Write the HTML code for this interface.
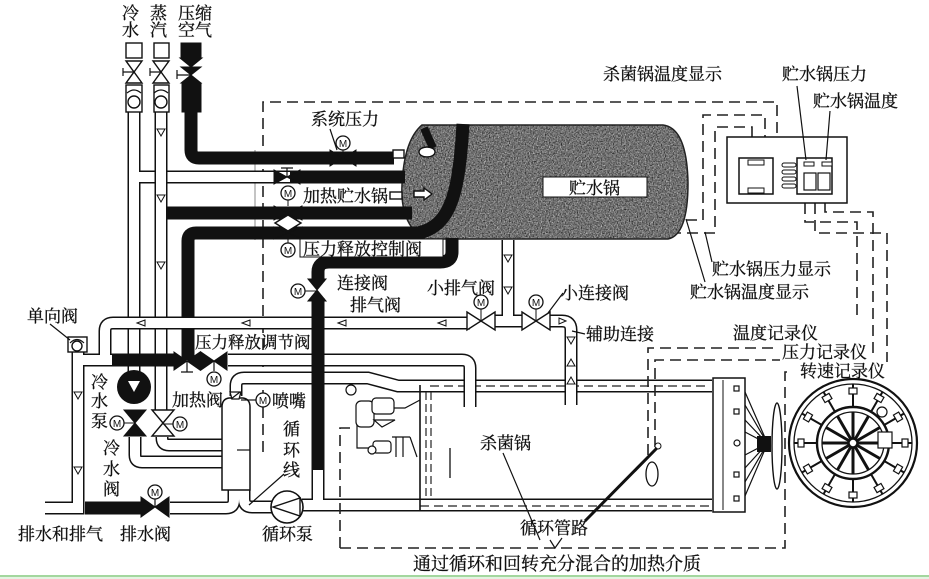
<!DOCTYPE html>
<html><head><meta charset="utf-8">
<style>
html,body{margin:0;padding:0;background:#fff;}
svg{display:block;}
text{font-family:"Liberation Serif","Noto Serif CJK SC","Noto Sans CJK SC",serif;font-size:17px;fill:#111;stroke:#111;stroke-width:0.3;}
.o{fill:none;stroke:#111;stroke-width:13;}
.i{fill:none;stroke:#fff;stroke-width:10;}
.b{fill:none;stroke:#111;stroke-width:13;}
.d{fill:none;stroke:#222;stroke-width:1.6;stroke-dasharray:11 6;}
.t{fill:none;stroke:#111;stroke-width:1.2;}
.vb{fill:#111;stroke:#111;stroke-width:1;}
.vw{fill:#fff;stroke:#111;stroke-width:1.4;}
.m{fill:#fff;stroke:#111;stroke-width:1.3;}
.mt{font-family:"Liberation Sans",sans-serif;font-size:10px;stroke:none;}
</style></head><body>
<svg width="929" height="579" viewBox="0 0 929 579" xmlns="http://www.w3.org/2000/svg">
<defs>
<filter id="speck" x="0" y="0" width="100%" height="100%" color-interpolation-filters="sRGB">
<feTurbulence type="fractalNoise" baseFrequency="0.75" numOctaves="2" seed="5"/>
<feColorMatrix type="matrix" values="0.33 0.33 0.33 0 0 0.33 0.33 0.33 0 0 0.33 0.33 0.33 0 0 0 0 0 0 1"/>
<feComponentTransfer><feFuncR type="linear" slope="2.2" intercept="-0.62"/><feFuncG type="linear" slope="2.2" intercept="-0.62"/><feFuncB type="linear" slope="2.2" intercept="-0.62"/></feComponentTransfer>
<feComposite in2="SourceGraphic" operator="in"/>
</filter>
</defs>
<rect width="929" height="579" fill="#fff"/>

<!-- dashed frames top -->
<path class="d" d="M263,452 V102 H777 V137"/>
<path class="d" d="M686,220 H703 V115 H765 V137"/>
<path class="d" d="M670,233 H715 V127 H752 V137"/>
<path class="d" d="M805,203 V222 H857 V318"/>
<path class="d" d="M825,203 V212 H873 V357"/>
<path class="d" d="M815,203 V233 H887 V362"/>
<line x1="255" y1="150" x2="255" y2="240" stroke="#888" stroke-width="1"/>

<!-- tank -->
<path d="M422,125 H663 Q687,128 688,183 Q688,235 668,239 H425 Q400,225 402,185 Q404,140 422,125 Z" fill="#606060"/>
<path d="M422,125 H663 Q687,128 688,183 Q688,235 668,239 H425 Q400,225 402,185 Q404,140 422,125 Z" fill="#777" filter="url(#speck)" opacity="0.7"/>
<path d="M422,125 H663 Q687,128 688,183 Q688,235 668,239 H425 Q400,225 402,185 Q404,140 422,125 Z" fill="none" stroke="#222" stroke-width="1.5"/>
<rect x="543" y="177" width="104" height="20" fill="#fff" stroke="#111" stroke-width="1"/>
<text x="569" y="194">贮水锅</text>
<path d="M424,128 L433,148" stroke="#111" stroke-width="8"/>

<!-- cold water + branch, steam -->
<path class="o" d="M134,112 V372"/><path class="o" d="M134,177 H290"/>
<path class="i" d="M134,112 V372"/><path class="i" d="M134,177 H290"/>
<path class="o" d="M161,112 V410"/><path class="i" d="M161,112 V410"/>

<!-- black pipes -->
<path class="b" d="M290,177 H405"/>
<path class="b" d="M167,213 H412"/>
<path class="b" stroke-width="14" d="M191,112 V150 Q191,158 199,158 H394"/>
<path class="b" stroke-width="12" d="M463,124 C459,190 452,226 418,233 H196 Q188,233 188,241 V360"/>
<path class="b" stroke-width="11" d="M452,238 V252 Q452,262 440,262 H329 Q318,262 318,272 V282"/>

<!-- tower pipe and bottom pipes -->
<path class="o" stroke-width="12" d="M236,396 V386 Q236,378 244,378 H368 L398,386 H712"/>
<path class="o" stroke-width="12" d="M302,505 H712"/>
<path class="o" stroke-width="12" d="M170,508 H226 Q234,508 234,500 V490"/>
<path class="o" stroke-width="12" d="M244,490 V499 Q244,507 252,507 H272"/>
<path class="o" stroke-width="12" d="M318,465 V505"/>
<path class="o" stroke-width="12" d="M135,437 V455 Q135,462 142,462 H222"/>
<path class="o" stroke-width="12" d="M162,437 V438 Q162,445 169,445 H222"/>
<path class="i" stroke-width="9" d="M236,396 V386 Q236,378 244,378 H368 L398,386 H712"/>
<path class="i" stroke-width="9" d="M302,505 H712"/>
<path class="i" stroke-width="9" d="M170,508 H226 Q234,508 234,500 V490"/>
<path class="i" stroke-width="9" d="M244,490 V499 Q244,507 252,507 H272"/>
<path class="i" stroke-width="9" d="M318,465 V505"/>
<path class="i" stroke-width="9" d="M135,437 V455 Q135,462 142,462 H222"/>
<path class="i" stroke-width="9" d="M162,437 V438 Q162,445 169,445 H222"/>
<line x1="430" y1="386" x2="710" y2="386" stroke="#222" stroke-width="1.2" stroke-dasharray="9 5"/>
<line x1="420" y1="506" x2="710" y2="506" stroke="#222" stroke-width="1.2" stroke-dasharray="9 5"/>

<!-- loops -->
<path class="o" d="M105,360 V331 Q105,323 113,323 H470"/>
<path class="o" d="M78,352 V508 H45"/>
<path class="o" d="M78,360 H114"/>
<path class="o" d="M228,360 H462 Q470,360 470,368 V407"/>
<path class="o" d="M508,240 V321"/>
<path class="o" d="M494,321 H523"/>
<path class="o" d="M549,321 H562 Q571,321 571,330 V405"/>
<path class="i" d="M105,360 V331 Q105,323 113,323 H470"/>
<path class="i" d="M78,352 V508 H45"/>
<path class="i" d="M78,360 H114"/>
<path class="i" d="M228,360 H462 Q470,360 470,368 V407"/>
<path class="i" d="M508,240 V321"/>
<path class="i" d="M494,321 H523"/>
<path class="i" d="M549,321 H562 Q571,321 571,330 V405"/>

<!-- black over -->
<path class="b" stroke-width="11" d="M112,360 H175"/>
<path class="b" stroke-width="11" d="M318,298 V470"/>
<path class="b" stroke-width="11" d="M85,508 H142"/>

<!-- arrows in pipes -->
<g fill="#fff" stroke="#111" stroke-width="1">
<polygon points="137,323 145,320 145,326"/><polygon points="242,323 250,320 250,326"/>
<polygon points="338,323 346,320 346,326"/><polygon points="438,323 446,320 446,326"/>
<polygon points="157,129 165,129 161,136"/><polygon points="157,195 165,195 161,202"/><polygon points="157,262 165,262 161,269"/>
<polygon points="74,392 82,392 78,399"/><polygon points="74,467 82,467 78,474"/>
<polygon points="504,255 512,255 508,262"/><polygon points="504,287 512,287 508,294"/>
<polygon points="567,337 575,337 571,344"/><polygon points="567,366 575,366 571,359"/><polygon points="567,384 575,384 571,377"/>
<polygon points="566,321 559,318 559,324"/>
</g>

<!-- top inlet valves -->
<rect x="126" y="43" width="16" height="15" class="vw"/>
<rect x="154" y="43" width="15" height="15" class="vw"/>
<path class="vw" d="M126,61 L142,61 L134,72 Z M126,83 L142,83 L134,72 Z"/>
<path class="vw" d="M153,61 L169,61 L161,72 Z M153,83 L169,83 L161,72 Z"/>
<path class="t" d="M123,68 V76 M123,72 H134 M150,68 V76 M150,72 H161"/>
<rect x="126" y="85" width="16" height="27" class="vw"/>
<rect x="154" y="85" width="15" height="27" class="vw"/>
<circle cx="134" cy="102" r="6" class="vw"/><circle cx="161" cy="102" r="6" class="vw"/>
<path class="t" d="M127,93 Q134,87 141,93 M154,93 Q161,87 168,93"/>
<rect x="181" y="43" width="20" height="15" class="vb"/>
<polygon class="vb" points="180,58 202,58 191,67"/>
<path class="vb" d="M181,67 L201,67 L191,75 Z M181,83 L201,83 L191,75 Z"/>
<path class="t" d="M177,70 V79 M177,75 H191"/>
<rect x="182" y="83" width="19" height="29" class="vb"/>

<!-- tank inlet valves -->
<path class="vb" d="M330,150 L343,158 L330,166 Z M356,150 L343,158 L356,166 Z"/>
<rect x="393" y="150" width="11" height="8" class="vw"/>
<ellipse cx="427" cy="152" rx="8" ry="5" class="vw"/>
<path class="vb" d="M274,170 L287,177 L274,184 Z M300,170 L287,177 L300,184 Z"/>
<path class="t" stroke-width="1.6" d="M287,177 V168 M281,168 H293"/>
<path class="vb" d="M274,206 L288,213 L274,220 Z M302,206 L288,213 L302,220 Z"/>
<path class="vb" d="M274,227 L288,233 L274,239 Z M302,227 L288,233 L302,239 Z"/>
<polygon class="vw" points="275,223 288,215 301,223 288,231"/>
<rect x="390" y="192" width="12" height="7" class="vw"/>
<polygon class="vw" points="414,191 424,191 424,188 432,194 424,200 424,197 414,197"/>
<rect x="300" y="239" width="143" height="18" fill="#fff" stroke="#111" stroke-width="1"/>

<!-- other valves -->
<path class="vb" d="M308,279 L326,279 L317,290 Z M308,301 L326,301 L317,290 Z"/>
<path class="vw" d="M467,312 L481,321 L467,330 Z M495,312 L481,321 L495,330 Z"/>
<path class="vw" d="M522,312 L536,321 L522,330 Z M550,312 L536,321 L550,330 Z"/>
<path class="vb" d="M174,352 L187,361 L174,370 Z M200,352 L187,361 L200,370 Z"/>
<path class="vb" d="M201,352 L214,361 L201,370 Z M227,352 L214,361 L227,370 Z"/>
<path class="t" stroke-width="1.5" d="M187,361 V372 M181,372 H193 M214,361 V371"/>
<path class="vb" d="M124,410 L146,410 L135,423 Z M124,436 L146,436 L135,423 Z"/>
<path class="vw" d="M152,410 L174,410 L163,423 Z M152,436 L174,436 L163,423 Z"/>
<path class="vb" d="M141,497 L155,507 L141,517 Z M169,497 L155,507 L169,517 Z"/>
<path class="t" d="M155,507 V499"/>

<!-- pumps -->
<circle cx="134" cy="387" r="17" fill="#111"/>
<polygon points="128,381 140,381 134,392" fill="#fff"/>
<circle cx="287" cy="507" r="16" fill="#fff" stroke="#111" stroke-width="1.6"/>
<polygon points="273,507 300,498 300,516" fill="#fff" stroke="#111" stroke-width="1.4"/>
<rect x="68" y="337" width="19" height="15" class="vw"/>
<circle cx="77" cy="346" r="5" class="vw"/>
<path class="t" d="M70,343 Q77,336 84,343"/>

<!-- tower -->
<path d="M222,490 V407 Q222,399 229,398 L243,398 Q250,399 250,407 V490 Z" fill="#fff" stroke="#111" stroke-width="1.5"/>
<path d="M230,392 L241,392 L239,399 L232,399 Z" fill="#fff" stroke="#111" stroke-width="1.3"/>
<line x1="231" y1="399" x2="240" y2="392" stroke="#111" stroke-width="1.2"/>
<line x1="241" y1="400" x2="256" y2="400" stroke="#111" stroke-width="1.2"/>
<line x1="237" y1="450" x2="250" y2="450" stroke="#111" stroke-width="1.2"/>

<!-- M circles -->
<g>
<line x1="343" y1="150" x2="343" y2="158" stroke="#111"/><line x1="288" y1="200" x2="288" y2="206" stroke="#111"/>
<line x1="288" y1="239" x2="288" y2="243" stroke="#111"/><line x1="305" y1="291" x2="317" y2="291" stroke="#111"/>
<line x1="481" y1="309" x2="481" y2="321" stroke="#111"/><line x1="536" y1="309" x2="536" y2="321" stroke="#111"/>
<line x1="124" y1="423" x2="135" y2="423" stroke="#111"/><line x1="163" y1="424" x2="173" y2="424" stroke="#111"/>
<line x1="155" y1="499" x2="155" y2="507" stroke="#111"/>
</g>
<g>
<circle cx="343" cy="143" r="7" class="m"/><text class="mt" x="343" y="147" text-anchor="middle">M</text>
<circle cx="288" cy="193" r="7" class="m"/><text class="mt" x="288" y="197" text-anchor="middle">M</text>
<circle cx="288" cy="250" r="7" class="m"/><text class="mt" x="288" y="254" text-anchor="middle">M</text>
<circle cx="298" cy="291" r="7" class="m"/><text class="mt" x="298" y="295" text-anchor="middle">M</text>
<circle cx="481" cy="302" r="7" class="m"/><text class="mt" x="481" y="306" text-anchor="middle">M</text>
<circle cx="536" cy="302" r="7" class="m"/><text class="mt" x="536" y="306" text-anchor="middle">M</text>
<circle cx="214" cy="379" r="7" class="m"/><text class="mt" x="214" y="383" text-anchor="middle">M</text>
<circle cx="117" cy="423" r="7" class="m"/><text class="mt" x="117" y="427" text-anchor="middle">M</text>
<circle cx="180" cy="424" r="7" class="m"/><text class="mt" x="180" y="428" text-anchor="middle">M</text>
<circle cx="155" cy="492" r="7" class="m"/><text class="mt" x="155" y="496" text-anchor="middle">M</text>
<circle cx="263" cy="400" r="7" class="m"/><text class="mt" x="263" y="404" text-anchor="middle">M</text>
</g>

<!-- sterilizer vessel -->
<line x1="420" y1="385" x2="420" y2="511" stroke="#111" stroke-width="1.6"/>
<line x1="426" y1="392" x2="426" y2="500" stroke="#222" stroke-width="1.2" stroke-dasharray="8 4"/>
<line x1="431" y1="392" x2="431" y2="500" stroke="#222" stroke-width="1.2" stroke-dasharray="8 4"/>
<line x1="450" y1="448" x2="450" y2="478" stroke="#111" stroke-width="1.3"/>
<g fill="#fff" stroke="#111" stroke-width="1.2">
<circle cx="351" cy="390" r="5"/>
<rect x="356" y="401" width="18" height="26" rx="5"/>
<rect x="372" y="398" width="22" height="16" rx="4"/>
<path d="M374,420 L395,420 L382,427 Z"/>
<path d="M394,408 L405,408 L420,400" fill="none"/>
<path d="M357,425 V448 H372" fill="none"/>
<rect x="373" y="441" width="18" height="12" rx="3"/>
<circle cx="372" cy="450" r="4"/>
<path d="M392,437 H410 M396,437 V457 M403,437 V457 M410,437 L417,457" fill="none"/>
</g>
<path class="d" d="M340,548 V428 H350"/>
<path class="d" d="M340,548 H785 V372 H793"/>
<path class="d" d="M648,455 V348 H773"/>
<path class="d" d="M655,447 V360 H780"/>
<ellipse cx="652" cy="474" rx="6" ry="12" fill="none" stroke="#111" stroke-width="1.3"/>
<circle cx="658" cy="446" r="3" fill="#fff" stroke="#111"/>
<line x1="657" y1="448" x2="585" y2="521" stroke="#111" stroke-width="3"/>
<path class="t" d="M503,453 L540,540 M550,540 L555,548 L562,538"/>

<!-- door -->
<rect x="713" y="378" width="32" height="134" fill="#fff" stroke="#111" stroke-width="1.5"/>
<line x1="723" y1="380" x2="723" y2="510" stroke="#111" stroke-width="1"/>
<g fill="#fff" stroke="#111" stroke-width="1.2">
<rect x="734" y="386" width="5" height="5"/><rect x="734" y="409" width="5" height="5"/>
<circle cx="737" cy="443" r="3"/><rect x="734" y="472" width="5" height="5"/><rect x="734" y="496" width="5" height="5"/>
</g>
<path class="t" d="M745,392 L766,440 M745,405 L766,441 M745,420 L766,442 M745,432 L766,443 M745,455 L766,444 M745,468 L766,445 M745,482 L766,446 M745,496 L766,447"/>
<rect x="757" y="436" width="14" height="16" fill="#111"/>
<ellipse cx="777" cy="446" rx="5" ry="43" fill="#fff" stroke="#111" stroke-width="1.4"/>

<!-- wheel -->
<g fill="none" stroke="#111">
<circle cx="853" cy="443" r="64" stroke-width="2.2"/>
<circle cx="853" cy="443" r="59" stroke-width="1.3"/>
<circle cx="853" cy="443" r="36" stroke-width="2.4"/>
<circle cx="853" cy="443" r="31" stroke-width="1.3"/>
<circle cx="853" cy="443" r="4" stroke-width="1.5"/>
<g stroke-width="2">
<g transform="rotate(0 853 443)"><line x1="853" y1="407" x2="853" y2="384"/><rect x="849" y="388" width="8" height="6" fill="#fff" stroke-width="1.2"/><line x1="853" y1="439" x2="853" y2="412" stroke-width="3"/></g>
<g transform="rotate(30 853 443)"><line x1="853" y1="407" x2="853" y2="384"/><rect x="849" y="388" width="8" height="6" fill="#fff" stroke-width="1.2"/><line x1="853" y1="439" x2="853" y2="412" stroke-width="3"/></g>
<g transform="rotate(60 853 443)"><line x1="853" y1="407" x2="853" y2="384"/><rect x="849" y="388" width="8" height="6" fill="#fff" stroke-width="1.2"/><line x1="853" y1="439" x2="853" y2="412" stroke-width="3"/></g>
<g transform="rotate(90 853 443)"><line x1="853" y1="407" x2="853" y2="384"/><rect x="849" y="388" width="8" height="6" fill="#fff" stroke-width="1.2"/><line x1="853" y1="439" x2="853" y2="412" stroke-width="3"/></g>
<g transform="rotate(120 853 443)"><line x1="853" y1="407" x2="853" y2="384"/><rect x="849" y="388" width="8" height="6" fill="#fff" stroke-width="1.2"/><line x1="853" y1="439" x2="853" y2="412" stroke-width="3"/></g>
<g transform="rotate(150 853 443)"><line x1="853" y1="407" x2="853" y2="384"/><rect x="849" y="388" width="8" height="6" fill="#fff" stroke-width="1.2"/><line x1="853" y1="439" x2="853" y2="412" stroke-width="3"/></g>
<g transform="rotate(180 853 443)"><line x1="853" y1="407" x2="853" y2="384"/><rect x="849" y="388" width="8" height="6" fill="#fff" stroke-width="1.2"/><line x1="853" y1="439" x2="853" y2="412" stroke-width="3"/></g>
<g transform="rotate(210 853 443)"><line x1="853" y1="407" x2="853" y2="384"/><rect x="849" y="388" width="8" height="6" fill="#fff" stroke-width="1.2"/><line x1="853" y1="439" x2="853" y2="412" stroke-width="3"/></g>
<g transform="rotate(240 853 443)"><line x1="853" y1="407" x2="853" y2="384"/><rect x="849" y="388" width="8" height="6" fill="#fff" stroke-width="1.2"/><line x1="853" y1="439" x2="853" y2="412" stroke-width="3"/></g>
<g transform="rotate(270 853 443)"><line x1="853" y1="407" x2="853" y2="384"/><rect x="849" y="388" width="8" height="6" fill="#fff" stroke-width="1.2"/><line x1="853" y1="439" x2="853" y2="412" stroke-width="3"/></g>
<g transform="rotate(300 853 443)"><line x1="853" y1="407" x2="853" y2="384"/><rect x="849" y="388" width="8" height="6" fill="#fff" stroke-width="1.2"/><line x1="853" y1="439" x2="853" y2="412" stroke-width="3"/></g>
<g transform="rotate(330 853 443)"><line x1="853" y1="407" x2="853" y2="384"/><rect x="849" y="388" width="8" height="6" fill="#fff" stroke-width="1.2"/><line x1="853" y1="439" x2="853" y2="412" stroke-width="3"/></g>
</g>
<circle cx="882" cy="412" r="5" stroke-width="1.2"/>
<rect x="878" y="432" width="14" height="16" fill="#fff" stroke-width="1.2"/>
</g>

<!-- controller box -->
<g fill="#fff" stroke="#111" stroke-width="1.5">
<rect x="727" y="137" width="120" height="66"/>
<rect x="739" y="158" width="34" height="36"/>
<rect x="748" y="160" width="16" height="5" stroke-width="1"/>
<rect x="748" y="188" width="16" height="5" stroke-width="1"/>
<rect x="782" y="163" width="14" height="4" rx="2" stroke-width="1"/>
<rect x="782" y="170" width="14" height="4" rx="2" stroke-width="1"/>
<rect x="782" y="177" width="14" height="4" rx="2" stroke-width="1"/>
<rect x="782" y="184" width="14" height="4" rx="2" stroke-width="1"/>
<rect x="797" y="158" width="35" height="36"/>
<rect x="804" y="162" width="10" height="4" stroke-width="1"/>
<rect x="822" y="162" width="10" height="4" stroke-width="1"/>
<rect x="804" y="173" width="12" height="17" stroke-width="1.2"/>
<rect x="818" y="173" width="12" height="17" stroke-width="1.2"/>
</g>

<!-- leader lines -->
<path class="t" d="M797,86 L806,160 M830,111 L826,160 M712,262 L705,232 M705,282 L686,219 M330,129 L337,150 M50,324 L70,340 M563,293 L548,313 M572,331 L585,334 M284,474 L249,505"/>

<!-- labels -->
<text x="122" y="19">冷</text><text x="122" y="36">水</text>
<text x="150" y="19">蒸</text><text x="150" y="36">汽</text>
<text x="178" y="19">压缩</text><text x="178" y="36">空气</text>
<text x="311" y="125">系统压力</text>
<text x="303" y="202">加热贮水锅</text>
<text x="303" y="255">压力释放控制阀</text>
<text x="337" y="289">连接阀</text>
<text x="427" y="294">小排气阀</text>
<text x="350" y="311">排气阀</text>
<text x="561" y="299">小连接阀</text>
<text x="586" y="340">辅助连接</text>
<text x="27" y="322">单向阀</text>
<text x="195" y="348" style="font-size:16.5px">压力释放调节阀</text>
<text x="91" y="388">冷</text><text x="91" y="407">水</text><text x="91" y="427">泵</text>
<text x="103" y="454">冷</text><text x="103" y="475">水</text><text x="103" y="495">阀</text>
<text x="172" y="406">加热阀</text>
<text x="272" y="407">喷嘴</text>
<text x="283" y="435">循</text><text x="283" y="456">环</text><text x="283" y="476">线</text>
<text x="18" y="540">排水和排气</text>
<text x="120" y="540">排水阀</text>
<text x="262" y="540">循环泵</text>
<text x="480" y="449">杀菌锅</text>
<text x="520" y="534">循环管路</text>
<text x="413" y="570" style="font-size:18px">通过循环和回转充分混合的加热介质</text>
<text x="733" y="339">温度记录仪</text>
<text x="782" y="358">压力记录仪</text>
<text x="800" y="377">转速记录仪</text>
<text x="603" y="80">杀菌锅温度显示</text>
<text x="782" y="80">贮水锅压力</text>
<text x="813" y="107">贮水锅温度</text>
<text x="712" y="275">贮水锅压力显示</text>
<text x="690" y="298">贮水锅温度显示</text>

<!-- bottom green band -->
<rect x="0" y="575" width="929" height="2" fill="#a3d79e"/>
<rect x="0" y="577" width="929" height="2" fill="#e4f3e2"/>
</svg>
</body></html>
